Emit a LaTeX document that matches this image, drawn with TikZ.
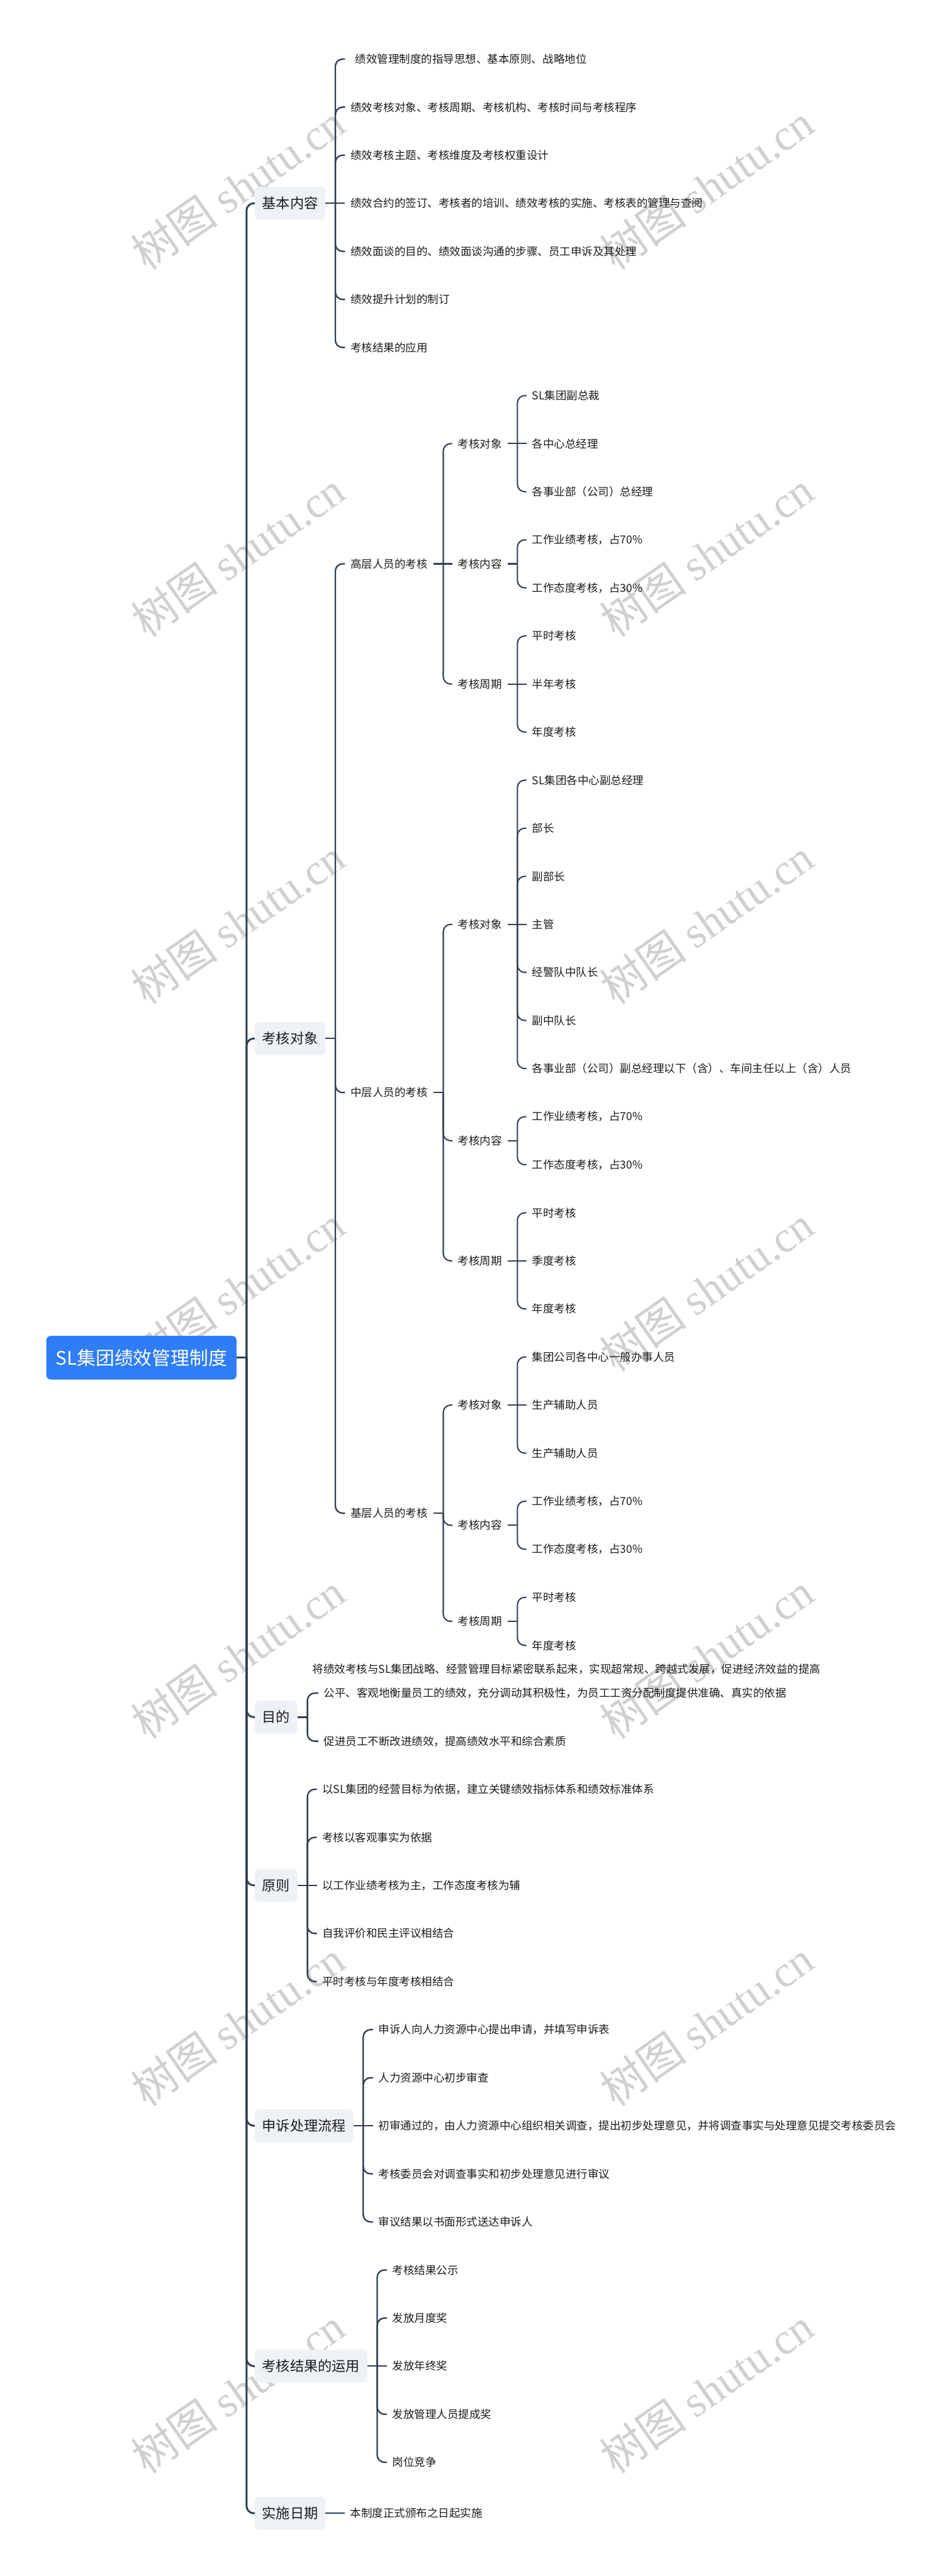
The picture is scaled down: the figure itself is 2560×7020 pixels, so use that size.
\documentclass[tikz,border=0pt]{standalone}
\usepackage{fontspec}
\setmainfont{Noto Sans CJK SC}
\newfontfamily\wmlatin{Liberation Serif}
\usetikzlibrary{calc}
\definecolor{linec}{RGB}{48,62,82}
\definecolor{boxc}{RGB}{238,241,246}
\definecolor{rootc}{RGB}{47,125,246}
\definecolor{wmc}{RGB}{208,208,208}
\definecolor{txtc}{RGB}{28,28,28}
\newcommand\mmstub[2]{\draw[#1] (#2.east) -- ++(27pt,0);}
\newcommand\mmkid[3]{\draw[#1,rounded corners=20pt] ([xshift=27pt]#2.east) |- (#3.west);}
\newcommand\mmkidS[3]{\draw[#1] ([xshift=27pt]#2.east) -- (#3.west);}
\tikzset{
  leaf/.style={anchor=west, inner xsep=15pt, inner ysep=6pt, font=\fontsize{30}{36}\selectfont, text=txtc},
  topic/.style={anchor=west, fill=boxc, rounded corners=12pt, inner xsep=20pt, minimum height=90pt, font=\fontsize{38}{46}\selectfont, text=txtc},
  rootbox/.style={anchor=west, fill=rootc, rounded corners=12pt, inner xsep=26pt, minimum width=513pt, minimum height=119pt, font=\fontsize{51}{60}\selectfont, text=white},
  c0/.style={draw=linec, line width=5pt},
  c1/.style={draw=linec, line width=4pt},
  c2/.style={draw=linec, line width=3.5pt},
  wm/.style={text=wmc, rotate=35, font=\fontsize{120}{130}\selectfont}
}
\begin{document}
\begin{tikzpicture}[x=1pt,y=-1pt]
\fill[white] (0,0) rectangle (2560,7020);
\useasboundingbox (0,0) rectangle (2560,7020);
% watermarks
\foreach \i/\yy in {1/510,2/1511,3/2512,4/3513,5/4514,6/5515,7/6516}{
  \node[wm] (wml\i) at (648,\yy) {树图 {\wmlatin shutu.cn}};
  \node[wm] (wmr\i) at (1925,\yy) {树图 {\wmlatin shutu.cn}};
}
% root
\node[rootbox] (root) at (126,3700) {SL集团绩效管理制度};
% level 1
\node[topic] (k1) at (694,554) {基本内容};
\node[topic] (k2) at (694,2830) {考核对象};
\node[topic] (k3) at (694,4679.5) {目的};
\node[topic] (k4) at (694,5138) {原则};
\node[topic] (k5) at (694,5793) {申诉处理流程};
\node[topic] (k6) at (694,6448) {考核结果的运用};
\node[topic] (k7) at (694,6849) {实施日期};
% k1 children
\node[leaf] (a1) at (940,161) {\hspace*{13pt}绩效管理制度的指导思想、基本原则、战略地位};
\node[leaf] (a2) at (940,292) {绩效考核对象、考核周期、考核机构、考核时间与考核程序};
\node[leaf] (a3) at (940,423) {绩效考核主题、考核维度及考核权重设计};
\node[leaf] (a4) at (940,554) {绩效合约的签订、考核者的培训、绩效考核的实施、考核表的管理与查阅};
\node[leaf] (a5) at (940,685) {绩效面谈的目的、绩效面谈沟通的步骤、员工申诉及其处理};
\node[leaf] (a6) at (940,816) {绩效提升计划的制订};
\node[leaf] (a7) at (940,947) {考核结果的应用};
% k2 children
\node[leaf] (g1) at (940,1536.5) {高层人员的考核};
\node[leaf] (g2) at (940,2977.5) {中层人员的考核};
\node[leaf] (g3) at (940,4123.75) {基层人员的考核};
\node[leaf] (g1a) at (1232,1209) {考核对象};
\node[leaf] (g1b) at (1232,1536.5) {考核内容};
\node[leaf] (g1c) at (1232,1864) {考核周期};
\node[leaf] (g2a) at (1232,2519) {考核对象};
\node[leaf] (g2b) at (1232,3108.5) {考核内容};
\node[leaf] (g2c) at (1232,3436) {考核周期};
\node[leaf] (g3a) at (1232,3829) {考核对象};
\node[leaf] (g3b) at (1232,4156.5) {考核内容};
\node[leaf] (g3c) at (1232,4418.5) {考核周期};
\node[leaf] (h1) at (1434,1078) {SL集团副总裁};
\node[leaf] (h2) at (1434,1209) {各中心总经理};
\node[leaf] (h3) at (1434,1340) {各事业部（公司）总经理};
\node[leaf] (h4) at (1434,1471) {工作业绩考核，占70\%};
\node[leaf] (h5) at (1434,1602) {工作态度考核，占30\%};
\node[leaf] (h6) at (1434,1733) {平时考核};
\node[leaf] (h7) at (1434,1864) {半年考核};
\node[leaf] (h8) at (1434,1995) {年度考核};
\node[leaf] (m1) at (1434,2126) {SL集团各中心副总经理};
\node[leaf] (m2) at (1434,2257) {部长};
\node[leaf] (m3) at (1434,2388) {副部长};
\node[leaf] (m4) at (1434,2519) {主管};
\node[leaf] (m5) at (1434,2650) {经警队中队长};
\node[leaf] (m6) at (1434,2781) {副中队长};
\node[leaf] (m7) at (1434,2912) {各事业部（公司）副总经理以下（含）、车间主任以上（含）人员};
\node[leaf] (m8) at (1434,3043) {工作业绩考核，占70\%};
\node[leaf] (m9) at (1434,3174) {工作态度考核，占30\%};
\node[leaf] (m10) at (1434,3305) {平时考核};
\node[leaf] (m11) at (1434,3436) {季度考核};
\node[leaf] (m12) at (1434,3567) {年度考核};
\node[leaf] (b1) at (1434,3698) {集团公司各中心一般办事人员};
\node[leaf] (b2) at (1434,3829) {生产辅助人员};
\node[leaf] (b3) at (1434,3960) {生产辅助人员};
\node[leaf] (b4) at (1434,4091) {工作业绩考核，占70\%};
\node[leaf] (b5) at (1434,4222) {工作态度考核，占30\%};
\node[leaf] (b6) at (1434,4353) {平时考核};
\node[leaf] (b7) at (1434,4484) {年度考核};
% k3 children
\node[leaf] (mf) at (836,4549) {将绩效考核与SL集团战略、经营管理目标紧密联系起来，实现超常规、跨越式发展，促进经济效益的提高};
\node[leaf] (d1) at (867,4614) {公平、客观地衡量员工的绩效，充分调动其积极性，为员工工资分配制度提供准确、真实的依据};
\node[leaf] (d2) at (867,4745) {促进员工不断改进绩效，提高绩效水平和综合素质};
% k4 children
\node[leaf] (p1) at (863,4876) {以SL集团的经营目标为依据，建立关键绩效指标体系和绩效标准体系};
\node[leaf] (p2) at (863,5007) {考核以客观事实为依据};
\node[leaf] (p3) at (863,5138) {以工作业绩考核为主，工作态度考核为辅};
\node[leaf] (p4) at (863,5269) {自我评价和民主评议相结合};
\node[leaf] (p5) at (863,5400) {平时考核与年度考核相结合};
% k5 children
\node[leaf] (s1) at (1016,5531) {申诉人向人力资源中心提出申请，并填写申诉表};
\node[leaf] (s2) at (1016,5662) {人力资源中心初步审查};
\node[leaf] (s3) at (1016,5793) {初审通过的，由人力资源中心组织相关调查，提出初步处理意见，并将调查事实与处理意见提交考核委员会};
\node[leaf] (s4) at (1016,5924) {考核委员会对调查事实和初步处理意见进行审议};
\node[leaf] (s5) at (1016,6055) {审议结果以书面形式送达申诉人};
% k6 children
\node[leaf] (r1) at (1054,6186) {考核结果公示};
\node[leaf] (r2) at (1054,6317) {发放月度奖};
\node[leaf] (r3) at (1054,6448) {发放年终奖};
\node[leaf] (r4) at (1054,6579) {发放管理人员提成奖};
\node[leaf] (r5) at (1054,6710) {岗位竞争};
% k7 child
\node[leaf] (t1) at (939,6849) {本制度正式颁布之日起实施};

% connectors: root
\mmstub{c0}{root}
\foreach \k in {k1,k2,k3,k4,k5,k6,k7}{\mmkid{c0}{root}{\k}}
% k1
\mmstub{c1}{k1}
\foreach \k in {a1,a2,a3,a5,a6,a7}{\mmkid{c1}{k1}{\k}}
\mmkidS{c1}{k1}{a4}
% k2
\mmstub{c1}{k2}
\foreach \k in {g1,g2,g3}{\mmkid{c1}{k2}{\k}}
\mmstub{c2}{g1}
\mmkid{c2}{g1}{g1a}\mmkidS{c2}{g1}{g1b}\mmkid{c2}{g1}{g1c}
\mmstub{c2}{g2}
\foreach \k in {g2a,g2b,g2c}{\mmkid{c2}{g2}{\k}}
\mmstub{c2}{g3}
\foreach \k in {g3a,g3b,g3c}{\mmkid{c2}{g3}{\k}}
\mmstub{c2}{g1a}
\mmkid{c2}{g1a}{h1}\mmkidS{c2}{g1a}{h2}\mmkid{c2}{g1a}{h3}
\mmstub{c2}{g1b}
\mmkid{c2}{g1b}{h4}\mmkid{c2}{g1b}{h5}
\mmstub{c2}{g1c}
\mmkid{c2}{g1c}{h6}\mmkidS{c2}{g1c}{h7}\mmkid{c2}{g1c}{h8}
\mmstub{c2}{g2a}
\foreach \k in {m1,m2,m3,m5,m6,m7}{\mmkid{c2}{g2a}{\k}}
\mmkidS{c2}{g2a}{m4}
\mmstub{c2}{g2b}
\mmkid{c2}{g2b}{m8}\mmkid{c2}{g2b}{m9}
\mmstub{c2}{g2c}
\mmkid{c2}{g2c}{m10}\mmkidS{c2}{g2c}{m11}\mmkid{c2}{g2c}{m12}
\mmstub{c2}{g3a}
\mmkid{c2}{g3a}{b1}\mmkidS{c2}{g3a}{b2}\mmkid{c2}{g3a}{b3}
\mmstub{c2}{g3b}
\mmkid{c2}{g3b}{b4}\mmkid{c2}{g3b}{b5}
\mmstub{c2}{g3c}
\mmkid{c2}{g3c}{b6}\mmkid{c2}{g3c}{b7}
% k3
\mmstub{c1}{k3}
\mmkid{c1}{k3}{d1}\mmkid{c1}{k3}{d2}
% k4
\mmstub{c1}{k4}
\foreach \k in {p1,p2,p4,p5}{\mmkid{c1}{k4}{\k}}
\mmkidS{c1}{k4}{p3}
% k5
\mmstub{c1}{k5}
\foreach \k in {s1,s2,s4,s5}{\mmkid{c1}{k5}{\k}}
\mmkidS{c1}{k5}{s3}
% k6
\mmstub{c1}{k6}
\foreach \k in {r1,r2,r4,r5}{\mmkid{c1}{k6}{\k}}
\mmkidS{c1}{k6}{r3}
% k7
\draw[c1] (k7.east) -- (t1.west);
\end{tikzpicture}
\end{document}
